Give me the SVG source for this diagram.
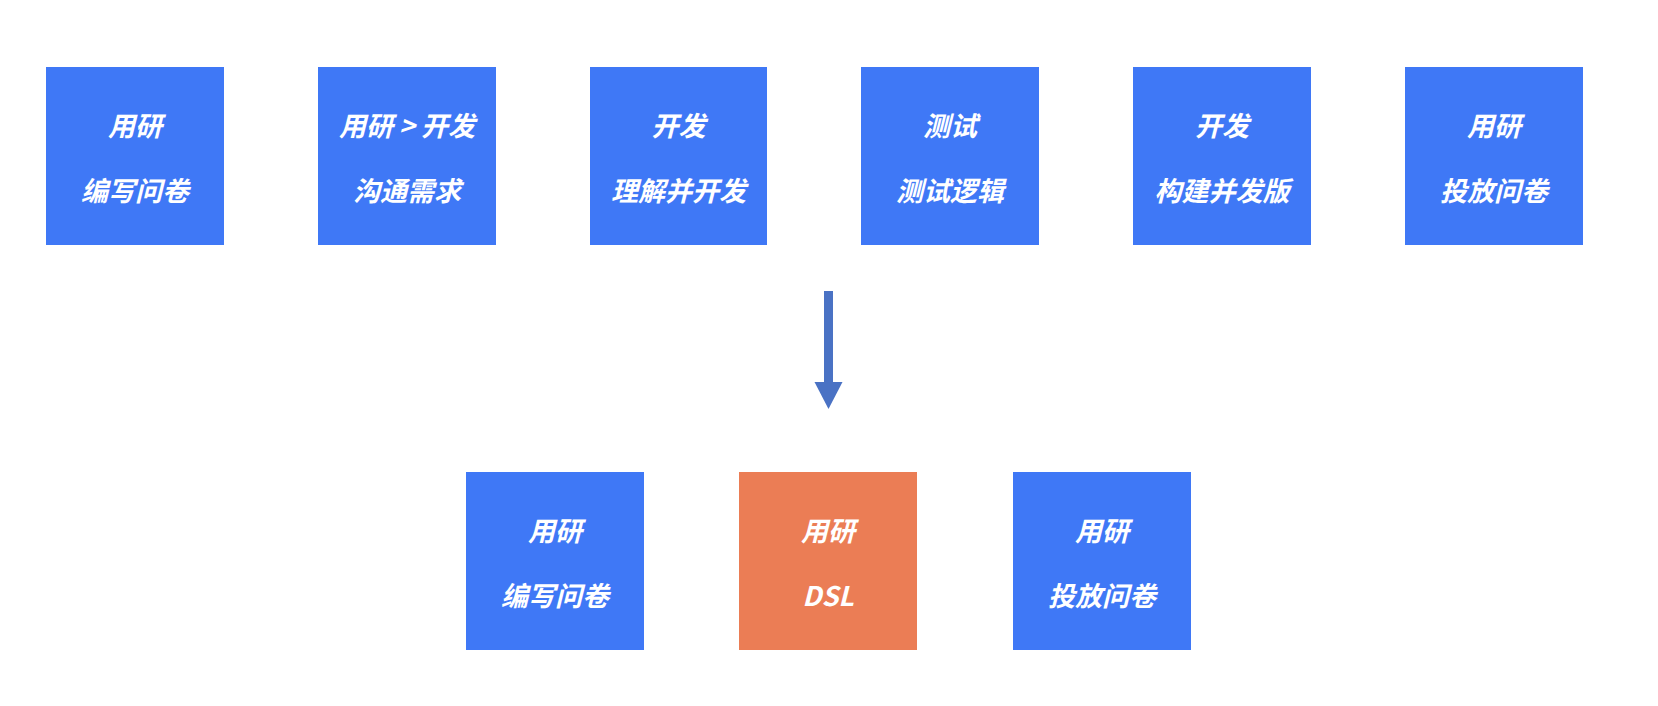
<svg xmlns="http://www.w3.org/2000/svg" width="1658" height="706" viewBox="0 0 1658 706">
<defs>
<style>
.b{fill:#3F78F6}
.o{fill:#EB7D55}
.t{font-family:"Noto Sans CJK SC","Noto Sans",sans-serif;font-size:27px;font-weight:bold;font-style:italic;fill:#FFFFFF;text-anchor:middle;dominant-baseline:central}
</style>
</defs>
<rect width="1658" height="706" fill="#FFFFFF"/>
<g id="n1"><rect class="b" x="46" y="67" width="178" height="178"/><text class="t" x="135" y="124.5">用研</text><text class="t" x="135" y="189">编写问卷</text></g>
<g id="n2"><rect class="b" x="318" y="67" width="178" height="178"/><text class="t" x="407" y="124.5">用研 &gt; 开发</text><text class="t" x="407" y="189">沟通需求</text></g>
<g id="n3"><rect class="b" x="590" y="67" width="177" height="178"/><text class="t" x="678.5" y="124.5">开发</text><text class="t" x="678.5" y="189">理解并开发</text></g>
<g id="n4"><rect class="b" x="861" y="67" width="178" height="178"/><text class="t" x="950" y="124.5">测试</text><text class="t" x="950" y="189">测试逻辑</text></g>
<g id="n5"><rect class="b" x="1133" y="67" width="178" height="178"/><text class="t" x="1222" y="124.5">开发</text><text class="t" x="1222" y="189">构建并发版</text></g>
<g id="n6"><rect class="b" x="1405" y="67" width="178" height="178"/><text class="t" x="1494" y="124.5">用研</text><text class="t" x="1494" y="189">投放问卷</text></g>
<g id="n7"><rect class="b" x="466" y="472" width="178" height="178"/><text class="t" x="555" y="529.5">用研</text><text class="t" x="555" y="594">编写问卷</text></g>
<g id="n8"><rect class="o" x="739" y="472" width="178" height="178"/><text class="t" x="828" y="529.5">用研</text><text class="t" x="828" y="594">DSL</text></g>
<g id="n9"><rect class="b" x="1013" y="472" width="178" height="178"/><text class="t" x="1102" y="529.5">用研</text><text class="t" x="1102" y="594">投放问卷</text></g>
<g id="connectors">
<rect x="824" y="291" width="9" height="92" fill="#4A72C4"/>
<polygon points="814.5,382 842.5,382 828.5,409" fill="#4A72C4"/>
</g>
</svg>
